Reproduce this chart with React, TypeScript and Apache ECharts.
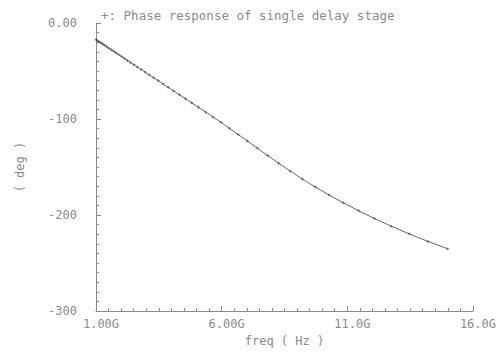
import React, { useEffect, useRef } from "react";
import * as echarts from "echarts";

const TITLE = "+: Phase response of single delay stage";
const X_NAME = "freq ( Hz )";
const Y_NAME = "( deg )";

const freqGHz = [
  1.0, 1.056, 1.115, 1.177, 1.242, 1.311, 1.384, 1.461, 1.543, 1.628,
  1.719, 1.815, 1.916, 2.022, 2.135, 2.254, 2.379, 2.512, 2.651, 2.799,
  2.955, 3.119, 3.292, 3.476, 3.669, 3.873, 4.089, 4.316, 4.557, 4.81,
  5.078, 5.36, 5.659, 5.974, 6.306, 6.657, 7.028, 7.419, 7.832, 8.268,
  8.727, 9.213, 9.726, 10.267, 10.839, 11.442, 12.079, 12.751, 13.461, 14.21,
  15.0,
];

const phaseDeg = [
  -17.3, -18.3, -19.3, -20.4, -21.5, -22.7, -23.9, -25.3, -26.7, -28.2,
  -29.7, -31.4, -33.1, -35.0, -36.9, -39.0, -41.2, -43.5, -45.9, -48.4,
  -51.1, -54.0, -57.0, -60.1, -63.5, -67.0, -70.7, -74.7, -78.8, -83.2,
  -87.8, -92.7, -97.9, -103.4, -109.6, -116.1, -123.0, -130.3, -138.0, -146.0,
  -154.2, -162.5, -170.8, -179.0, -187.2, -195.4, -203.6, -211.6, -219.6, -227.4,
  -235.2,
];

const xTickLabels: Record<number, string> = { 1: "1.00G", 6: "6.00G", 11: "11.0G", 16: "16.0G" };
const yTickLabels: Record<number, string> = { 0: "0.00", [-100]: "-100", [-200]: "-200", [-300]: "-300" };

const FONT = "'DejaVu Sans Mono', 'Liberation Mono', monospace";
const GRAY = "#8a8a8a";

export default function App() {
  const ref = useRef<HTMLDivElement>(null);
  useEffect(() => {
    if (!ref.current) return;
    const chart = echarts.init(ref.current, null, { renderer: "svg" });
    const data = freqGHz.map((f, i) => [f, phaseDeg[i]]);
    chart.setOption({
      animation: false,
      backgroundColor: "#ffffff",
      title: {
        text: TITLE,
        left: 96,
        top: 4,
        textStyle: { fontFamily: FONT, fontSize: 12.5, fontWeight: "normal", color: GRAY },
      },
      grid: { left: 96, top: 23, right: 26, bottom: 34, containLabel: false },
      xAxis: {
        type: "value",
        min: 1,
        max: 16,
        interval: 5,
        name: X_NAME,
        nameLocation: "middle",
        nameGap: 15,
        nameTextStyle: { fontFamily: FONT, fontSize: 12, color: GRAY, verticalAlign: "top" },
        axisLine: { show: true, onZero: false, lineStyle: { color: GRAY, width: 1 } },
        axisTick: { show: true, inside: true, length: 5, lineStyle: { color: GRAY } },
        minorTick: { show: true, splitNumber: 10, length: 3, lineStyle: { color: GRAY } },
        splitLine: { show: false },
        axisLabel: {
          fontFamily: FONT,
          fontSize: 12,
          color: GRAY,
          margin: 7,
          padding: [0, 0, 0, 10],
          formatter: (v: number) => xTickLabels[v] ?? "",
        },
      },
      yAxis: {
        type: "value",
        min: -300,
        max: 0,
        interval: 100,
        name: Y_NAME,
        nameLocation: "middle",
        nameGap: 70,
        nameRotate: 90,
        nameTextStyle: { fontFamily: FONT, fontSize: 12, color: GRAY },
        axisLine: { show: true, onZero: false, lineStyle: { color: GRAY, width: 1 } },
        axisTick: { show: true, inside: true, length: 5, lineStyle: { color: GRAY } },
        minorTick: { show: true, splitNumber: 10, length: 3, lineStyle: { color: GRAY } },
        splitLine: { show: false },
        axisLabel: {
          fontFamily: FONT,
          fontSize: 12,
          color: GRAY,
          margin: 19,
          verticalAlign: "middle",
          padding: [0, 0, 8, 0],
          formatter: (v: number) => yTickLabels[v] ?? "",
        },
      },
      series: [
        {
          type: "line",
          data,
          showSymbol: true,
          symbol: "path://M0 5L10 5M5 0L5 10",
          symbolSize: 3,
          itemStyle: { color: "#444", borderColor: "#444", borderWidth: 0.6 },
          lineStyle: { color: "#666", width: 1 },
          silent: true,
        },
      ],
    });
    return () => chart.dispose();
  }, []);
  return <div ref={ref} style={{ width: 499, height: 352, position: "absolute", left: 0, top: 0 }} />;
}
